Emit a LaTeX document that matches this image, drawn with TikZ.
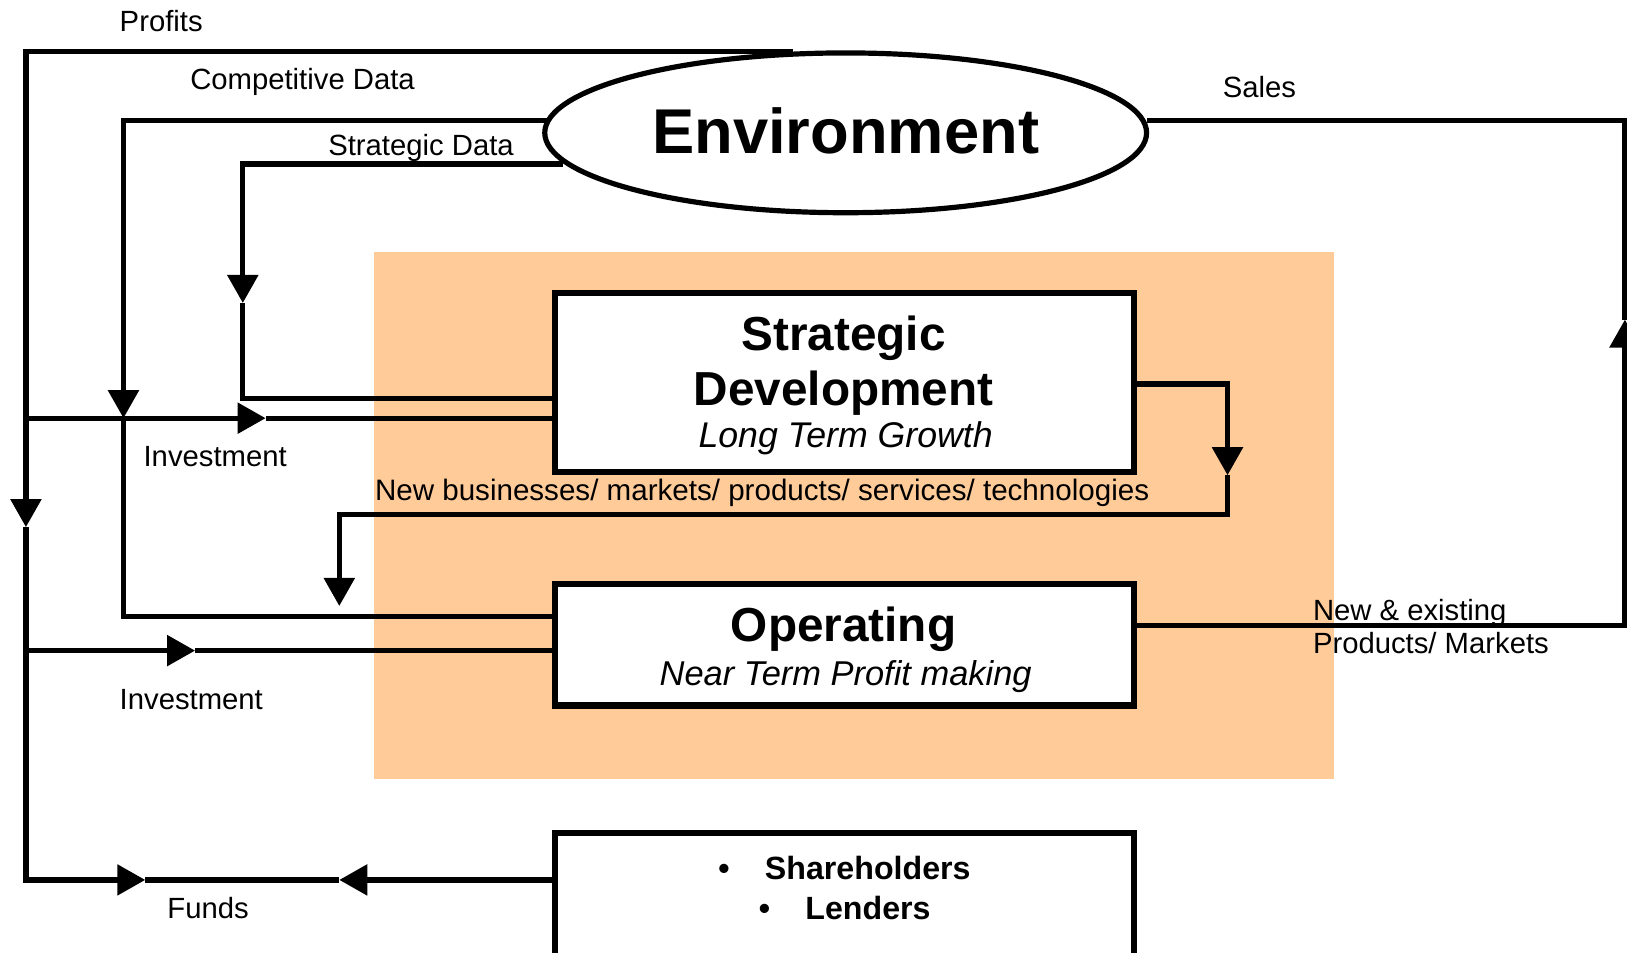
\documentclass[tikz,border=0pt]{standalone}
\usepackage{fontspec}
\setmainfont{Liberation Sans}
\usetikzlibrary{arrows.meta,shapes.geometric}
\definecolor{peach}{HTML}{FFCC99}

\begin{document}
\begin{tikzpicture}[x=0.5pt,y=-0.5pt,
  flow/.style={line width=2.5pt},
  flowarr/.style={flow,-{Triangle[length=13.5pt,width=14.5pt]}},
  unitbox/.style={draw,line width=3pt,fill=white,rectangle,inner sep=0pt},
  lbl/.style={font=\fontsize{14.1}{16.8}\selectfont,anchor=base west,inner sep=0pt},
  boxtitle/.style={font=\fontsize{23}{27}\selectfont\bfseries,anchor=base,inner sep=0pt},
  boxsub/.style={font=\fontsize{16.6}{19}\selectfont\itshape,anchor=base,inner sep=0pt},
  lender/.style={font=\fontsize{15.5}{18}\selectfont\bfseries,anchor=base west,inner sep=0pt}]
\useasboundingbox (0,0) rectangle (1568,918);

% shaded business area
\fill[peach] (360,243) rectangle (1286,751);

% main units
\node[ellipse,draw,line width=2.5pt,fill=white,minimum width=290pt,minimum height=77pt,
      inner sep=0pt,font=\fontsize{30.5}{36}\selectfont\bfseries] (env) at (815,128) {\raisebox{2pt}{Environment}};
\node[unitbox,minimum width=279pt,minimum height=86.5pt] (sd) at (814,368.5) {};
\node[unitbox,minimum width=279pt,minimum height=58.5pt] (op) at (814,621.5) {};
\node[unitbox,minimum width=279pt,minimum height=66pt] (sh) at (814,869) {};

% unit texts
\node[boxtitle] (sdT1) at (813,338) {Strategic};
\node[boxtitle] (sdT2) at (813,391) {Development};
\node[boxsub,font=\fontsize{17.2}{19}\selectfont\itshape] (sdT3) at (815,431) {Long Term Growth};
\node[boxtitle] (opT1) at (813,618) {Operating};
\node[boxsub] (opT2) at (815,661) {Near Term Profit making};
\node[lender] (shT1) at (692,848) {•\hspace{17pt}Shareholders};
\node[lender] (shT2) at (731,886) {•\hspace{17pt}Lenders};

% corner points of the connectors
\coordinate (pTL) at (25,50);
\coordinate (pDown) at (25,508);
\coordinate (pBL) at (25,848);
\coordinate (fR) at (140,848);
\coordinate (fL) at (327,848);
\coordinate (cTL) at (119,116);
\coordinate (cDown) at (119,403);
\coordinate (cBL) at (119,594);
\coordinate (sTL) at (234,158);
\coordinate (sDown) at (234,292);
\coordinate (sBL) at (234,384);
\coordinate (i1L) at (25,403);
\coordinate (i1Tip) at (256,403);
\coordinate (i2L) at (25,627);
\coordinate (i2Tip) at (188,627);
\coordinate (nTR) at (1183,370);
\coordinate (nDown) at (1183,458);
\coordinate (nBR) at (1183,496);
\coordinate (nBL) at (327,496);
\coordinate (nTip) at (327,584);
\coordinate (oR) at (1566,603);
\coordinate (sUp) at (1566,308);
\coordinate (sTR) at (1566,116);

% profits and funds
\draw[flowarr] (pTL -| env.123.4) -- (pTL) -- (pDown);
\draw[flowarr] (pDown) -- (pBL) -- (fR);
\draw[flow] (fR) -- (fL);
\draw[flowarr] (sh.west |- fL) -- (fL);

% competitive data
\draw[flowarr] (cTL -| env.177.6) -- (cTL) -- (cDown);
\draw[flow] (cDown) -- (cBL) -- (op.west |- cBL);

% strategic data
\draw[flowarr] (sTL -| env.186.4) -- (sTL) -- (sDown);
\draw[flow] (sDown) -- (sBL) -- (sd.west |- sBL);

% investments
\draw[flowarr] (i1L) -- (i1Tip);
\draw[flow] (i1Tip) -- (sd.west |- i1Tip);
\draw[flowarr] (i2L) -- (i2Tip);
\draw[flow] (i2Tip) -- (op.west |- i2Tip);

% new businesses into operations
\draw[flowarr] (sd.east |- nTR) -- (nTR) -- (nDown);
\draw[flowarr] (nDown) -- (nBR) -- (nBL) -- (nTip);

% sales back to the environment
\draw[flowarr] (op.east |- oR) -- (oR) -- (sUp);
\draw[flow] (sUp) -- (sTR) -- (sTR -| env.2.4);

% labels
\node[lbl] (lProfits) at (115,30) {Profits};
\node[lbl] (lComp) at (183,86) {Competitive Data};
\node[lbl] (lStrat) at (316,150) {Strategic Data};
\node[lbl] (lSales) at (1178,94) {Sales};
\node[lbl] (lInv1) at (138,450) {Investment};
\node[lbl,font=\fontsize{14.25}{16.8}\selectfont] (lNew) at (361,482) {New businesses/ markets/ products/ services/ technologies};
\node[lbl] (lNE1) at (1265,598) {New \& existing};
\node[lbl] (lNE2) at (1265,630) {Products/ Markets};
\node[lbl] (lInv2) at (115,684) {Investment};
\node[lbl] (lFunds) at (161,885) {Funds};
\end{tikzpicture}
\end{document}
